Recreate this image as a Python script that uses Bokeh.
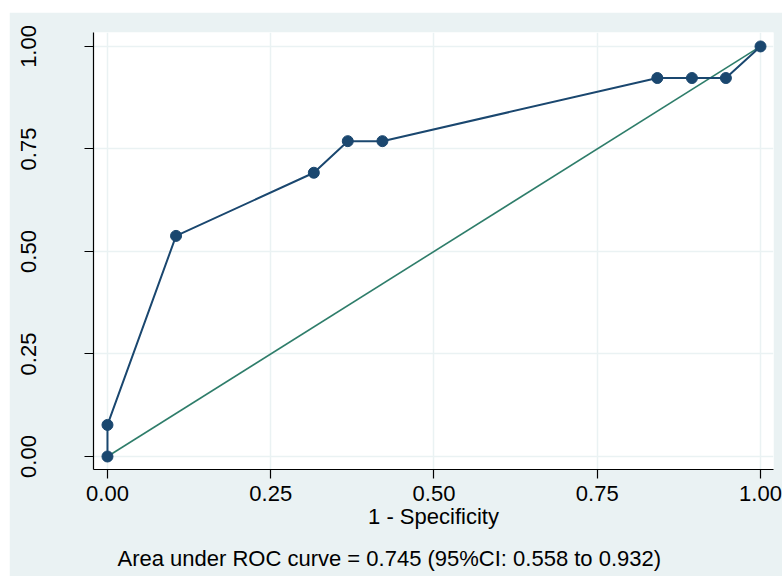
from bokeh.plotting import figure
from bokeh.layouts import row, column
from bokeh.models import Spacer, Title, FixedTicker, Range1d
from bokeh.embed import file_html
from bokeh.resources import INLINE

# ROC points (1 - specificity, sensitivity)
fpr = [0.0, 0.0, 0.105, 0.316, 0.368, 0.421, 0.842, 0.895, 0.947, 1.0]
tpr = [0.0, 0.077, 0.538, 0.692, 0.769, 0.769, 0.923, 0.923, 0.923, 1.0]
ref_x = [0.0, 1.0]
ref_y = [0.0, 1.0]
ticks = [0.0, 0.25, 0.5, 0.75, 1.0]
tick_labels = {0.0: "0.00", 0.25: "0.25", 0.5: "0.50", 0.75: "0.75", 1.0: "1.00"}
x_label = "1 - Specificity"
note = "Area under ROC curve = 0.745 (95%CI: 0.558 to 0.932)"

BG = "#EAF2F3"
BLUE = "#1a476f"
GREEN = "#2e7d6a"
FONT = "Liberation Sans"
FS = "22px"

p = figure(width=773, height=564, output_backend="svg", toolbar_location=None,
           x_range=Range1d(-0.0214, 1.0199), y_range=Range1d(-0.0317, 1.034),
           min_border_left=84, min_border_top=20, min_border_right=9, min_border_bottom=107)
p.background_fill_color = "white"
p.border_fill_color = BG
p.outline_line_color = None

p.line(ref_x, ref_y, line_color=GREEN, line_width=1.6)
p.line(fpr, tpr, line_color=BLUE, line_width=2)
p.scatter(fpr, tpr, size=11, fill_color=BLUE, line_color=BLUE)

for ax in (p.xaxis[0], p.yaxis[0]):
    ax.ticker = FixedTicker(ticks=ticks)
    ax.major_label_overrides = tick_labels
    ax.minor_tick_line_color = None
    ax.axis_line_color = "black"
    ax.axis_line_width = 1.2
    ax.major_tick_line_color = "black"
    ax.major_tick_line_width = 1.2
    ax.major_tick_out = 9
    ax.major_tick_in = 0
    ax.major_label_text_font = FONT
    ax.major_label_text_font_size = FS
    ax.major_label_text_color = "black"

p.xaxis[0].major_label_standoff = 7
p.xaxis[0].axis_label = x_label
p.xaxis[0].axis_label_text_font = FONT
p.xaxis[0].axis_label_text_font_size = FS
p.xaxis[0].axis_label_text_font_style = "normal"
p.xaxis[0].axis_label_text_color = "black"
p.xaxis[0].axis_label_standoff = 0
p.yaxis[0].major_label_orientation = "vertical"
p.yaxis[0].major_label_standoff = 48

p.xgrid.ticker = FixedTicker(ticks=ticks)
p.ygrid.ticker = FixedTicker(ticks=ticks)
p.xgrid.grid_line_color = BG
p.ygrid.grid_line_color = BG
p.xgrid.grid_line_width = 1.5
p.ygrid.grid_line_width = 1.5

gap = Title(text=" ", standoff=7, text_font_size="1px", text_color=BG)
p.add_layout(gap, "below")
t = Title(text=note, align="left", offset=24, standoff=8, vertical_align="top",
          text_font=FONT, text_font_size=FS, text_font_style="normal", text_color="black")
p.add_layout(t, "below")

layout = row(Spacer(width=9), column(Spacer(height=12), p))
open("out.html", "w").write(file_html(layout, INLINE))
